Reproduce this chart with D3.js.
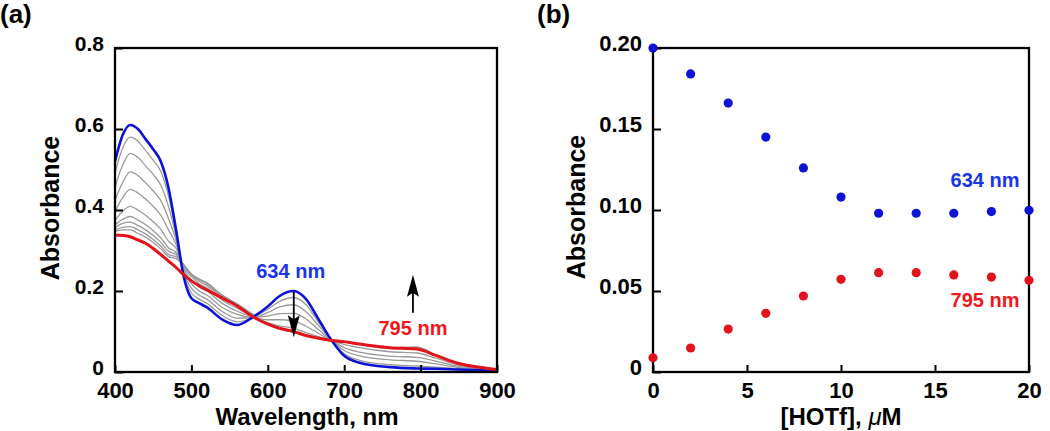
<!DOCTYPE html>
<html>
<head>
<meta charset="utf-8">
<script src="https://cdn.jsdelivr.net/npm/d3@7/dist/d3.min.js"></script>
<style>
  html, body { margin: 0; padding: 0; background: #fff; }
  svg { display: block; }
  text { font-family: "Liberation Sans", Arial, Helvetica, sans-serif; font-weight: bold; }
</style>
</head>
<body>
<svg id="chart" width="1050" height="431"></svg>
<script>
// ---------- Panel (a): UV-vis spectra ----------
const wavelengths = [400,410,420,430,440,450,460,470,480,490,500,510,520,540,560,580,600,615,634,650,665,680,700,720,760,795,820,850,880,900];

const spectrumInitial = [0.52,0.585,0.61,0.60,0.575,0.55,0.52,0.455,0.35,0.235,0.182,0.17,0.16,0.13,0.116,0.135,0.162,0.187,0.20,0.18,0.135,0.088,0.04,0.023,0.012,0.0088,0.008,0.006,0.004,0.003];
const spectrumFinal = [0.338,0.337,0.334,0.326,0.318,0.305,0.29,0.274,0.258,0.24,0.225,0.213,0.203,0.183,0.163,0.137,0.118,0.108,0.0998,0.09,0.084,0.079,0.075,0.069,0.06,0.0566,0.041,0.021,0.011,0.006];

const spectrum2  = [0.491,0.553,0.580,0.570,0.547,0.523,0.495,0.435,0.345,0.240,0.195,0.180,0.170,0.140,0.124,0.134,0.155,0.174,0.184,0.166,0.127,0.087,0.045,0.029,0.018,0.0148,0.012,0.008,0.005,0.003];
const spectrum4  = [0.456,0.511,0.540,0.530,0.509,0.488,0.461,0.409,0.335,0.245,0.207,0.190,0.180,0.150,0.133,0.134,0.147,0.160,0.166,0.149,0.118,0.085,0.053,0.040,0.030,0.0265,0.020,0.011,0.007,0.004];
const spectrum6  = [0.424,0.468,0.494,0.485,0.467,0.447,0.423,0.379,0.325,0.250,0.218,0.200,0.190,0.160,0.142,0.135,0.138,0.144,0.145,0.131,0.107,0.083,0.060,0.049,0.039,0.0362,0.027,0.014,0.008,0.004];
const spectrum8  = [0.396,0.431,0.451,0.442,0.427,0.409,0.387,0.351,0.315,0.255,0.228,0.210,0.200,0.170,0.150,0.136,0.129,0.129,0.126,0.113,0.097,0.081,0.068,0.060,0.050,0.0469,0.034,0.017,0.010,0.005];
const spectrum10 = [0.374,0.397,0.409,0.400,0.387,0.371,0.352,0.323,0.305,0.260,0.236,0.218,0.208,0.178,0.157,0.138,0.122,0.114,0.108,0.097,0.088,0.080,0.074,0.068,0.058,0.0572,0.040,0.020,0.011,0.005];
const spectrum12 = [0.363,0.377,0.384,0.375,0.364,0.349,0.331,0.307,0.295,0.263,0.240,0.224,0.214,0.184,0.162,0.140,0.118,0.108,0.098,0.090,0.084,0.079,0.075,0.069,0.060,0.0613,0.042,0.021,0.012,0.006];
const spectrum14 = [0.356,0.367,0.370,0.362,0.351,0.337,0.320,0.298,0.290,0.265,0.242,0.228,0.218,0.188,0.166,0.142,0.118,0.108,0.098,0.090,0.084,0.079,0.075,0.069,0.060,0.0613,0.042,0.021,0.012,0.006];
const spectrum16 = [0.351,0.357,0.359,0.351,0.341,0.327,0.311,0.290,0.285,0.265,0.242,0.230,0.220,0.190,0.168,0.143,0.118,0.108,0.098,0.090,0.084,0.079,0.075,0.069,0.060,0.0599,0.041,0.021,0.012,0.006];
const spectrum18 = [0.347,0.351,0.351,0.342,0.333,0.320,0.304,0.285,0.280,0.262,0.240,0.229,0.220,0.190,0.168,0.143,0.118,0.109,0.099,0.091,0.085,0.079,0.074,0.068,0.059,0.0586,0.041,0.021,0.012,0.006];
const intermediateSpectra = [spectrum2, spectrum4, spectrum6, spectrum8, spectrum10, spectrum12, spectrum14, spectrum16, spectrum18];

const xTicksA = [400,500,600,700,800,900];
const yTicksA = [0,0.2,0.4,0.6,0.8];

// ---------- Panel (b): titration ----------
const hotf = [0,2,4,6,8,10,12,14,16,18,20];
const abs634 = [0.200,0.184,0.166,0.145,0.126,0.108,0.098,0.098,0.098,0.099,0.0998];
const abs795 = [0.0088,0.0148,0.0265,0.0362,0.0469,0.0572,0.0613,0.0613,0.0599,0.0586,0.0566];
const xTicksB = [0,5,10,15,20];
const yTicksB = [0,0.05,0.10,0.15,0.20];

// ---------- Drawing ----------
const svg = d3.select("#chart");
const BLUE = "#0c12d6", RED = "#e4121a", GRAY = "#9a9a9a";
const BLUE_TXT = "#1a34ee", RED_TXT = "#f2161c";

function frameAndAxes(g, x, y, xt, yt, yfmt, yFont, xFont) {
  const [x0, x1] = x.range(), [y0, y1] = y.range();
  const ax = g.append("g").attr("transform", `translate(0,${y0})`)
    .call(d3.axisBottom(x).tickValues(xt).tickSizeInner(-7).tickSizeOuter(0).tickPadding(10));
  ax.select(".domain").remove();
  ax.selectAll("line").attr("stroke", "#000").attr("stroke-width", 2);
  ax.selectAll("text").attr("fill", "#000").style("font-size", xFont + "px").attr("y", 10).attr("dy", "0.71em");

  const ay = g.append("g").attr("transform", `translate(${x0},0)`)
    .call(d3.axisLeft(y).tickValues(yt).tickFormat(yfmt).tickSizeInner(-8).tickSizeOuter(0).tickPadding(11));
  ay.select(".domain").remove();
  ay.selectAll("line").attr("stroke", "#000").attr("stroke-width", 2);
  ay.selectAll("text").attr("fill", "#000").style("font-size", yFont + "px").attr("dy", "0.12em");

  g.append("rect").attr("x", x0).attr("y", y1).attr("width", x1 - x0).attr("height", y0 - y1)
    .attr("fill", "none").attr("stroke", "#000").attr("stroke-width", 2.3);
}

// Panel (a)
const xA = d3.scaleLinear().domain([400, 900]).range([115, 497]);
const yA = d3.scaleLinear().domain([0, 0.8]).range([372, 48]);
const gA = svg.append("g");

const lineA = d3.line().x((d, i) => xA(wavelengths[i])).y(d => yA(d)).curve(d3.curveMonotoneX);
gA.selectAll(".gray").data(intermediateSpectra).enter().append("path")
  .attr("d", lineA).attr("fill", "none").attr("stroke", GRAY).attr("stroke-width", 1.3);
gA.append("path").attr("d", lineA(spectrumInitial)).attr("fill", "none").attr("stroke", BLUE).attr("stroke-width", 2.6);
gA.append("path").attr("d", lineA(spectrumFinal)).attr("fill", "none").attr("stroke", RED).attr("stroke-width", 3);

frameAndAxes(gA, xA, yA, xTicksA, yTicksA, v => v === 0 ? "0" : d3.format(".1f")(v), 21, 22);

// Arrows
function arrow(g, xs, ys, wl, from, to) {
  const x = xs(wl), ya = ys(from), yb = ys(to);
  const dir = yb > ya ? 1 : -1;
  const headLen = 22, halfW = 6, notch = 4;
  const base = yb - dir * headLen;
  g.append("line").attr("x1", x).attr("x2", x).attr("y1", ya).attr("y2", base + dir * notch)
    .attr("stroke", "#000").attr("stroke-width", 1.8);
  g.append("path").attr("d", `M${x},${yb} L${x - halfW},${base} L${x},${base + dir * notch} L${x + halfW},${base} Z`)
    .attr("fill", "#000");
}
arrow(gA, xA, yA, 634, 0.198, 0.086);
arrow(gA, xA, yA, 790, 0.146, 0.240);

gA.append("text").attr("x", xA(630)).attr("y", yA(0.232)).attr("text-anchor", "middle")
  .attr("fill", BLUE_TXT).style("font-size", "20px").text("634 nm");
gA.append("text").attr("x", xA(790)).attr("y", yA(0.091)).attr("text-anchor", "middle")
  .attr("fill", RED_TXT).style("font-size", "20px").text("795 nm");

gA.append("text").attr("transform", `translate(59,208) rotate(-90)`).attr("text-anchor", "middle")
  .style("font-size", "25px").text("Absorbance");
gA.append("text").attr("x", 307).attr("y", 425).attr("text-anchor", "middle")
  .style("font-size", "24px").text("Wavelength, nm");
gA.append("text").attr("x", 0).attr("y", 23).style("font-size", "26px").text("(a)");

// Panel (b)
const xB = d3.scaleLinear().domain([0, 20]).range([653, 1029]);
const yB = d3.scaleLinear().domain([0, 0.2]).range([372, 48]);
const gB = svg.append("g");

frameAndAxes(gB, xB, yB, xTicksB, yTicksB, v => v === 0 ? "0" : d3.format(".2f")(v), 22, 22);

gB.selectAll(".p634").data(hotf).enter().append("circle")
  .attr("cx", d => xB(d)).attr("cy", (d, i) => yB(abs634[i])).attr("r", 4.6).attr("fill", BLUE);
gB.selectAll(".p795").data(hotf).enter().append("circle")
  .attr("cx", d => xB(d)).attr("cy", (d, i) => yB(abs795[i])).attr("r", 4.6).attr("fill", RED);

gB.append("text").attr("x", xB(17.66)).attr("y", yB(0.114)).attr("text-anchor", "middle")
  .attr("fill", BLUE_TXT).style("font-size", "20px").text("634 nm");
gB.append("text").attr("x", xB(17.66)).attr("y", yB(0.040)).attr("text-anchor", "middle")
  .attr("fill", RED_TXT).style("font-size", "20px").text("795 nm");

gB.append("text").attr("transform", `translate(585,207) rotate(-90)`).attr("text-anchor", "middle")
  .style("font-size", "25px").text("Absorbance");
const xt = gB.append("text").attr("x", 841).attr("y", 425).attr("text-anchor", "middle").style("font-size", "24px");
xt.append("tspan").text("[HOTf], ");
xt.append("tspan").style("font-style", "italic").style("font-weight", "normal").text("\u03bc");
xt.append("tspan").text("M");
gB.append("text").attr("x", 537).attr("y", 23).style("font-size", "26px").text("(b)");
</script>
</body>
</html>
